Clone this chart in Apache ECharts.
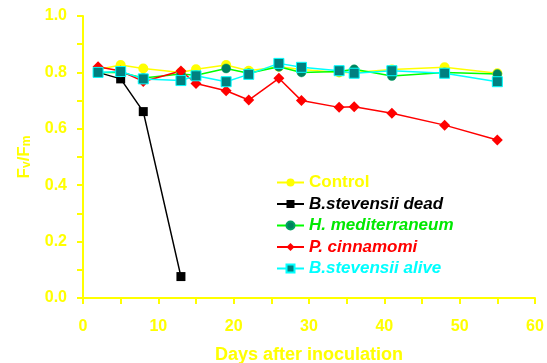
<!DOCTYPE html>
<html><head><meta charset="utf-8">
<script src="https://cdn.jsdelivr.net/npm/echarts@6/dist/echarts.min.js"></script>
<style>html,body{margin:0;padding:0;background:#fff}#c{width:547px;height:363px}</style>
</head><body><div id="c"></div>
<script>
var days = [2,5,8,13,15,19,22,26,29,34,36,41,48,55];
var deadDays = [2,5,8,13];
var control = [0.81,0.826,0.814,0.80,0.811,0.826,0.806,0.82,0.81,0.80,0.80,0.81,0.818,0.797];
var bsDead = [0.80,0.777,0.661,0.076];
var hMed = [0.80,0.80,0.78,0.794,0.79,0.814,0.797,0.82,0.80,0.803,0.811,0.787,0.80,0.794];
var pCin = [0.820,0.805,0.768,0.805,0.761,0.735,0.702,0.779,0.700,0.676,0.678,0.655,0.613,0.560];
var bsAlive = [0.80,0.803,0.777,0.771,0.788,0.767,0.793,0.832,0.818,0.806,0.797,0.806,0.797,0.767];
var names = ['Control','B.stevensii dead','H. mediterraneum','P. cinnamomi','B.stevensii alive'];

function pairs(xs, ys){ return xs.map(function(x,i){return [x, ys[i]];}); }
var Y = '#ffff00';
var FONT = 'Liberation Sans, Arial, sans-serif';
var chart = echarts.init(document.getElementById('c'));
chart.setOption({
  animation:false,
  backgroundColor:'#fff',
  textStyle:{fontFamily:FONT},
  grid:{left:83,right:12,top:16,bottom:65,containLabel:false,outerBoundsMode:'none'},
  legend:{
    orient:'vertical', left:271, top:169, itemWidth:27, itemHeight:10, itemGap:4.5,
    textStyle:{fontSize:17,fontWeight:'bold',fontFamily:FONT},
    data:[
      {name:names[0], textStyle:{color:Y}},
      {name:names[1], textStyle:{color:'#000000',fontStyle:'italic'}},
      {name:names[2], textStyle:{color:'#00e800',fontStyle:'italic'}},
      {name:names[3], textStyle:{color:'#ff0000',fontStyle:'italic'}},
      {name:names[4], textStyle:{color:'#00ffff',fontStyle:'italic'}}
    ]
  },
  xAxis:{
    type:'value', min:0, max:60, interval:10,
    name:'Days after inoculation', nameLocation:'middle', nameGap:48,
    nameTextStyle:{color:Y,fontSize:18,fontWeight:'bold'},
    axisLine:{show:true,onZero:false,lineStyle:{color:Y,width:2}},
    axisTick:{show:true,length:6,lineStyle:{color:Y,width:2}},
    minorTick:{show:true,splitNumber:2,length:6,lineStyle:{color:Y,width:2}},
    axisLabel:{color:Y,fontSize:16,fontWeight:'bold',margin:21},
    splitLine:{show:false}
  },
  yAxis:{
    type:'value', min:0, max:1, interval:0.2,
    name:'{a|F}{s|v}{a|/F}{s|m}', nameLocation:'middle', nameGap:50, nameRotate:90,
    nameTextStyle:{color:Y, rich:{
      a:{color:Y,fontSize:17,fontWeight:'bold',fontFamily:FONT},
      s:{color:Y,fontSize:12,fontWeight:'bold',fontFamily:FONT,verticalAlign:'bottom',padding:[6,0,0,0]}
    }},
    axisLine:{show:true,lineStyle:{color:Y,width:2}},
    axisTick:{show:true,length:6,lineStyle:{color:Y,width:2}},
    minorTick:{show:true,splitNumber:2,length:6,lineStyle:{color:Y,width:2}},
    axisLabel:{color:Y,fontSize:16,fontWeight:'bold',margin:16,formatter:function(v){return v.toFixed(1);}},
    splitLine:{show:false}
  },
  series:[
    {name:names[0],type:'line',data:pairs(days,control),symbol:'circle',symbolSize:10,
     lineStyle:{color:Y,width:1.5},itemStyle:{color:Y}},
    {name:names[1],type:'line',data:pairs(deadDays,bsDead),symbol:'rect',symbolSize:9,
     lineStyle:{color:'#000',width:1.5},itemStyle:{color:'#000'}},
    {name:names[2],type:'line',data:pairs(days,hMed),symbol:'circle',symbolSize:9,
     lineStyle:{color:'#00ff00',width:1.5},itemStyle:{color:'#008060',borderColor:'#00a060',borderWidth:0.5}},
    {name:names[3],type:'line',data:pairs(days,pCin),symbol:'diamond',symbolSize:11,
     lineStyle:{color:'#ff0000',width:1.5},itemStyle:{color:'#ff0000'}},
    {name:names[4],type:'line',data:pairs(days,bsAlive),symbol:'rect',symbolSize:10,
     lineStyle:{color:'#00ffff',width:1.5},itemStyle:{color:'#008080',borderColor:'#00ffff',borderWidth:1}}
  ]
});
</script></body></html>
